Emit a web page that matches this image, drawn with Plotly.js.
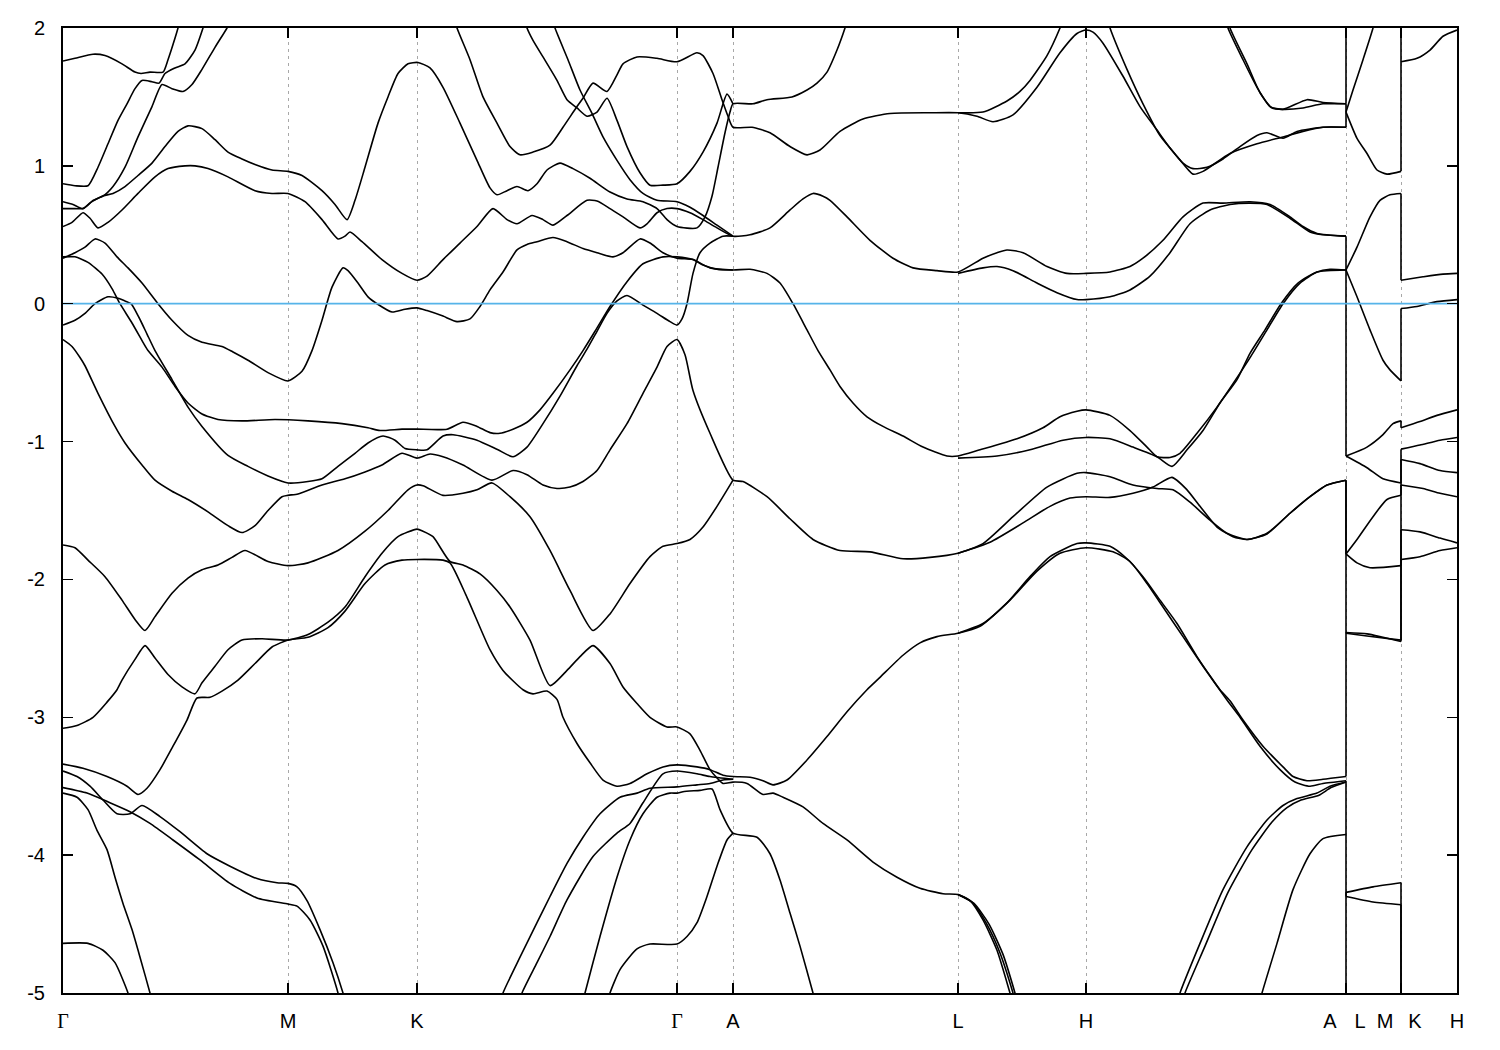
<!DOCTYPE html>
<html><head><meta charset="utf-8">
<script src="https://cdn.plot.ly/plotly-3.0.1.min.js"></script>
<style>html,body{margin:0;padding:0;background:#fff}#chart{width:1500px;height:1050px}</style>
</head><body><div id="chart"></div>
<script>
// ---- axis / path definitions (k = path coordinate along Γ-M-K-Γ-A-L-H-A|L-M|K-H) ----
const symK = [0, 225, 354, 614, 670, 895, 1023, 1283, 1338, 1394];
const labelK = [0, 225, 354, 614, 670, 895, 1023, 1267, 1297, 1322, 1352, 1394];
const labelText = ['Γ','M','K','Γ','A','L','H','A','L','M','K','H'];
const yTickVals = [2, 1, 0, -1, -2, -3, -4, -5];
const yTickText = ['2','1','0','-1','-2','-3','-4','-5'];
const eRange = [-5, 2];
const eFermi = 0;

// ---- bands: [k, E(eV)] ----
const bandG1 = [[0,1.76],[12,1.78],[30,1.81],[42,1.80],[59,1.74],[72,1.68],[78,1.67],[87,1.68],[100,1.68],[105,1.77],[110,1.88],[115,2.0],[119,2.12]];
const bandG2 = [[0,0.87],[12,0.856],[25,0.856],[35,0.99],[45,1.16],[55,1.33],[64,1.45],[72,1.56],[79,1.62],[89,1.61],[96,1.60],[102,1.67],[112,1.71],[122,1.74],[132,1.84],[140,2.0],[144,2.1]];
const bandG3 = [[0,0.74],[10,0.72],[20,0.69],[30,0.75],[40,0.78],[50,0.85],[62,0.99],[75,1.21],[89,1.43],[99,1.59],[109,1.56],[120,1.54],[129,1.59],[139,1.70],[152,1.86],[164,2.0],[168,2.06]];
const bandG4 = [[0,0.69],[12,0.69],[20,0.69],[29,0.74],[39,0.78],[50,0.80],[62,0.85],[75,0.93],[89,1.02],[102,1.14],[115,1.25],[125,1.29],[139,1.27],[152,1.19],[165,1.10],[179,1.05],[192,1.01],[209,0.97],[225,0.96],[239,0.93],[259,0.82],[272,0.72],[284,0.61],[292,0.75],[302,0.99],[315,1.31],[325,1.50],[335,1.67],[345,1.74],[355,1.75],[367,1.71],[380,1.57],[397,1.31],[414,1.04],[427,0.84],[434,0.79],[444,0.82],[454,0.85],[465,0.82],[474,0.87],[484,0.97],[497,1.02],[510,0.98],[527,0.91],[547,0.81],[564,0.76],[580,0.74],[594,0.69],[604,0.61],[614,0.56],[634,0.55],[642,0.63],[649,0.78],[655,0.99],[662,1.24],[667,1.39],[670,1.45],[690,1.45],[704,1.48],[729,1.50],[744,1.55],[754,1.60],[764,1.68],[774,1.84],[782,2.0],[787,2.12]];
const bandG5 = [[0,0.56],[9,0.59],[20,0.66],[27,0.62],[35,0.55],[45,0.59],[59,0.68],[75,0.80],[92,0.92],[105,0.98],[122,1.00],[132,1.00],[145,0.98],[165,0.92],[192,0.82],[209,0.80],[225,0.80],[242,0.74],[259,0.61],[275,0.47],[282,0.49],[287,0.52],[299,0.45],[319,0.32],[339,0.22],[354,0.17],[364,0.20],[380,0.32],[397,0.44],[414,0.56],[430,0.69],[444,0.61],[454,0.58],[469,0.64],[480,0.61],[490,0.57],[504,0.64],[524,0.75],[534,0.745],[547,0.69],[560,0.63],[577,0.55],[584,0.58],[594,0.66],[604,0.69],[614,0.69],[627,0.66],[640,0.61],[654,0.55],[670,0.49],[687,0.50],[707,0.55],[727,0.68],[740,0.76],[750,0.80],[760,0.78],[767,0.75],[784,0.63],[807,0.46],[830,0.33],[850,0.26],[874,0.24],[895,0.23],[920,0.33],[934,0.37],[944,0.39],[960,0.37],[984,0.27],[1004,0.22],[1023,0.22],[1047,0.23],[1067,0.27],[1080,0.33],[1100,0.46],[1120,0.63],[1140,0.73],[1160,0.73],[1187,0.74],[1207,0.72],[1227,0.63],[1240,0.56],[1254,0.51],[1283,0.49]];
const bandL023b = [[895,0.22],[920,0.26],[934,0.27],[950,0.24],[974,0.15],[994,0.08],[1014,0.03],[1023,0.03],[1047,0.05],[1067,0.10],[1087,0.20],[1107,0.37],[1127,0.58],[1147,0.68],[1167,0.72],[1187,0.73],[1204,0.72],[1227,0.62],[1247,0.52],[1260,0.50],[1283,0.49]];
const bandT1 = [[460,2.1],[464,2.0],[470,1.91],[480,1.79],[494,1.62],[504,1.48],[514,1.42],[524,1.36],[534,1.39],[544,1.49],[554,1.33],[564,1.14],[577,0.95],[587,0.86],[600,0.86],[614,0.87],[627,0.96],[640,1.10],[654,1.31],[664,1.52],[670,1.45]];
const bandT2 = [[488,2.1],[492,2.0],[505,1.77],[517,1.55],[529,1.38],[540,1.21],[554,1.04],[567,0.90],[580,0.80],[594,0.75],[614,0.74],[627,0.70],[640,0.64],[654,0.57],[670,0.49]];
const bandDelta = [[390,2.1],[394,2.0],[407,1.77],[420,1.50],[434,1.31],[447,1.14],[457,1.08],[470,1.10],[487,1.15],[500,1.28],[514,1.43],[520,1.49],[530,1.60],[544,1.54],[554,1.66],[560,1.74],[574,1.79],[594,1.78],[614,1.755],[634,1.82],[640,1.80],[650,1.67],[659,1.48],[665,1.36],[670,1.28],[689,1.28],[707,1.24],[727,1.14],[744,1.08],[757,1.115],[777,1.25],[800,1.34],[827,1.38],[867,1.385],[895,1.385],[914,1.36],[930,1.32],[950,1.37],[974,1.57],[997,1.82],[1014,1.96],[1023,1.985],[1030,1.97],[1040,1.89],[1060,1.65],[1077,1.43],[1094,1.26],[1107,1.13],[1120,1.02],[1130,0.98],[1144,0.99],[1160,1.05],[1177,1.14],[1194,1.22],[1204,1.24],[1220,1.20],[1234,1.25],[1260,1.28],[1283,1.28]];
const bandLtop = [[895,1.385],[920,1.39],[944,1.47],[957,1.54],[967,1.62],[984,1.80],[997,2.0],[1002,2.1]];
const bandTopA1 = [[1043,2.1],[1047,2.0],[1064,1.70],[1080,1.45],[1097,1.22],[1114,1.07],[1130,0.94],[1140,0.96],[1167,1.09],[1194,1.16],[1220,1.21],[1240,1.25],[1260,1.28],[1283,1.28]];
const bandTopA2 = [[1162,2.1],[1165,2.0],[1180,1.77],[1194,1.57],[1207,1.43],[1220,1.41],[1244,1.48],[1260,1.46],[1283,1.45],[1283,2.3]];
const bandTopA3 = [[1164,2.1],[1167,2.0],[1184,1.74],[1197,1.53],[1209,1.42],[1220,1.41],[1240,1.42],[1260,1.45],[1283,1.45]];
const bandD1 = [[0,0.33],[12,0.37],[22,0.41],[32,0.47],[42,0.44],[54,0.34],[65,0.26],[79,0.15],[95,0.00],[109,-0.12],[125,-0.23],[139,-0.28],[159,-0.31],[170,-0.35],[185,-0.41],[205,-0.50],[225,-0.56],[239,-0.49],[249,-0.34],[259,-0.12],[269,0.12],[280,0.26],[285,0.24],[295,0.15],[305,0.05],[314,0.00],[329,-0.06],[342,-0.04],[354,-0.03],[364,-0.05],[380,-0.09],[394,-0.13],[407,-0.11],[417,-0.02],[427,0.10],[440,0.23],[454,0.39],[464,0.43],[474,0.45],[490,0.48],[504,0.45],[520,0.40],[534,0.37],[550,0.34],[560,0.37],[577,0.47],[587,0.44],[600,0.37],[614,0.33],[630,0.32],[647,0.26],[670,0.245],[687,0.25],[704,0.22],[717,0.15],[730,0.00],[744,-0.19],[755,-0.34],[767,-0.48],[777,-0.60],[790,-0.72],[804,-0.82],[820,-0.89],[840,-0.96],[860,-1.04],[884,-1.105],[895,-1.105],[917,-1.06],[954,-0.98],[980,-0.90],[997,-0.82],[1014,-0.78],[1023,-0.77],[1047,-0.81],[1067,-0.92],[1084,-1.04],[1094,-1.11],[1107,-1.115],[1117,-1.085],[1134,-0.94],[1154,-0.75],[1170,-0.58],[1188,-0.38],[1204,-0.19],[1220,0.00],[1237,0.15],[1254,0.23],[1267,0.25],[1283,0.245]];
const bandD1b = [[895,-1.12],[934,-1.105],[967,-1.06],[1000,-0.99],[1023,-0.97],[1047,-0.98],[1070,-1.04],[1094,-1.11],[1109,-1.18],[1124,-1.06],[1140,-0.92],[1157,-0.72],[1174,-0.55],[1187,-0.36],[1202,-0.19],[1218,0.00],[1235,0.15],[1254,0.23],[1283,0.245]];
const bandD2 = [[0,0.34],[12,0.34],[25,0.30],[39,0.215],[49,0.11],[57,0.00],[69,-0.14],[80,-0.28],[85,-0.34],[99,-0.46],[112,-0.60],[125,-0.72],[139,-0.80],[155,-0.84],[179,-0.85],[212,-0.84],[245,-0.85],[279,-0.87],[305,-0.90],[317,-0.92],[339,-0.91],[354,-0.91],[384,-0.91],[400,-0.86],[414,-0.89],[427,-0.935],[437,-0.94],[450,-0.91],[464,-0.86],[477,-0.77],[490,-0.65],[507,-0.48],[520,-0.34],[532,-0.20],[547,-0.02],[564,0.16],[580,0.29],[600,0.34],[614,0.34],[630,0.32],[640,0.28],[654,0.25],[670,0.245]];
const bandD3 = [[0,-0.155],[12,-0.12],[22,-0.07],[32,0.00],[45,0.05],[55,0.04],[62,0.02],[68,0.00],[76,-0.10],[84,-0.22],[92,-0.34],[109,-0.55],[125,-0.75],[139,-0.89],[165,-1.10],[185,-1.18],[205,-1.25],[225,-1.30],[245,-1.29],[259,-1.27],[275,-1.18],[292,-1.085],[305,-1.01],[320,-0.96],[332,-0.99],[342,-1.05],[354,-1.06],[364,-1.06],[380,-0.96],[390,-0.95],[414,-0.99],[435,-1.06],[450,-1.11],[464,-1.04],[480,-0.87],[497,-0.67],[514,-0.45],[524,-0.33],[534,-0.20],[544,-0.07],[554,0.02],[564,0.06],[580,-0.01],[594,-0.07],[607,-0.13],[614,-0.155],[619,-0.11],[624,0.00],[630,0.22],[637,0.37],[647,0.44],[660,0.49],[670,0.49]];
const bandS = [[0,-0.26],[9,-0.31],[17,-0.39],[22,-0.45],[35,-0.65],[52,-0.89],[62,-1.01],[79,-1.17],[92,-1.28],[109,-1.36],[125,-1.42],[145,-1.51],[165,-1.61],[179,-1.66],[192,-1.61],[205,-1.50],[219,-1.40],[225,-1.39],[235,-1.38],[259,-1.315],[282,-1.27],[302,-1.22],[319,-1.17],[339,-1.085],[354,-1.12],[367,-1.09],[380,-1.11],[400,-1.17],[429,-1.28],[450,-1.21],[464,-1.24],[480,-1.315],[494,-1.34],[507,-1.33],[520,-1.29],[534,-1.21],[547,-1.06],[564,-0.87],[580,-0.65],[594,-0.46],[604,-0.31],[614,-0.26],[622,-0.37],[630,-0.63],[647,-0.94],[670,-1.28],[680,-1.29],[704,-1.40],[727,-1.56],[750,-1.71],[777,-1.79],[807,-1.80],[840,-1.85],[867,-1.84],[895,-1.81],[920,-1.74],[950,-1.545],[984,-1.33],[1014,-1.23],[1023,-1.225],[1047,-1.255],[1070,-1.315],[1094,-1.34],[1110,-1.35],[1127,-1.44],[1147,-1.57],[1164,-1.665],[1184,-1.71],[1204,-1.665],[1227,-1.52],[1247,-1.40],[1264,-1.315],[1283,-1.28]];
const bandSb = [[895,-1.81],[927,-1.73],[960,-1.59],[987,-1.47],[1007,-1.41],[1023,-1.40],[1047,-1.405],[1070,-1.375],[1090,-1.33],[1109,-1.26],[1124,-1.35],[1137,-1.47],[1154,-1.62],[1170,-1.69],[1184,-1.71],[1204,-1.67],[1227,-1.52],[1247,-1.40],[1264,-1.315],[1283,-1.28]];
const bandV = [[0,-1.75],[12,-1.77],[25,-1.86],[42,-1.98],[59,-2.15],[72,-2.29],[82,-2.37],[92,-2.27],[109,-2.10],[125,-1.99],[139,-1.93],[155,-1.895],[169,-1.84],[182,-1.79],[205,-1.87],[225,-1.90],[245,-1.88],[275,-1.79],[302,-1.65],[325,-1.50],[345,-1.35],[354,-1.315],[360,-1.32],[380,-1.39],[400,-1.375],[414,-1.35],[429,-1.30],[447,-1.40],[467,-1.545],[487,-1.79],[507,-2.08],[530,-2.37],[547,-2.25],[567,-2.03],[587,-1.835],[600,-1.76],[614,-1.74],[627,-1.71],[640,-1.62],[654,-1.47],[670,-1.28]];
const band308 = [[0,-3.08],[14,-3.06],[30,-3.00],[44,-2.89],[54,-2.80],[59,-2.73],[72,-2.58],[82,-2.48],[92,-2.57],[105,-2.69],[119,-2.78],[132,-2.83],[139,-2.75],[152,-2.63],[165,-2.51],[179,-2.44],[199,-2.43],[225,-2.44],[245,-2.40],[265,-2.31],[282,-2.20],[302,-1.98],[319,-1.81],[335,-1.69],[354,-1.635],[360,-1.65],[370,-1.69],[387,-1.87],[400,-1.895],[417,-1.96],[434,-2.08],[447,-2.20],[467,-2.44],[487,-2.77],[504,-2.66],[517,-2.56],[530,-2.48],[547,-2.61],[560,-2.78],[574,-2.90],[587,-3.00],[604,-3.07],[614,-3.07],[627,-3.12],[637,-3.24],[647,-3.38],[654,-3.44],[660,-3.48],[670,-3.47],[684,-3.48],[700,-3.56],[710,-3.55],[720,-3.58],[740,-3.65],[760,-3.77],[784,-3.89],[810,-4.05],[834,-4.16],[857,-4.24],[880,-4.28],[895,-4.285],[907,-4.33],[920,-4.47],[934,-4.69],[947,-5.0],[951,-5.1]];
const band334 = [[0,-3.34],[20,-3.37],[44,-3.43],[64,-3.50],[75,-3.56],[84,-3.515],[97,-3.38],[110,-3.21],[124,-3.02],[134,-2.86],[147,-2.855],[159,-2.81],[175,-2.73],[192,-2.61],[209,-2.49],[225,-2.44],[245,-2.42],[265,-2.35],[282,-2.23],[302,-2.03],[322,-1.895],[339,-1.86],[354,-1.855],[380,-1.86],[387,-1.88],[404,-2.13],[427,-2.51],[440,-2.66],[460,-2.80],[470,-2.83],[484,-2.81],[494,-2.87],[500,-3.00],[514,-3.19],[527,-3.33],[540,-3.455],[554,-3.50],[567,-3.48],[584,-3.41],[600,-3.36],[614,-3.345],[634,-3.36],[647,-3.38],[660,-3.42],[670,-3.43],[687,-3.435],[700,-3.46],[710,-3.49],[724,-3.455],[744,-3.31],[764,-3.14],[784,-2.96],[804,-2.80],[817,-2.71],[840,-2.55],[857,-2.46],[874,-2.415],[895,-2.39],[917,-2.34],[944,-2.17],[967,-1.98],[987,-1.835],[1014,-1.74],[1023,-1.735],[1047,-1.76],[1064,-1.85],[1080,-1.98],[1097,-2.15],[1114,-2.32],[1134,-2.56],[1150,-2.73],[1157,-2.80],[1167,-2.88],[1180,-3.02],[1200,-3.21],[1220,-3.36],[1230,-3.43],[1244,-3.46],[1260,-3.45],[1283,-3.43]];
const band334b = [[895,-2.39],[920,-2.32],[947,-2.15],[974,-1.94],[997,-1.81],[1023,-1.77],[1050,-1.80],[1067,-1.87],[1084,-2.03],[1100,-2.20],[1120,-2.415],[1140,-2.63],[1164,-2.875],[1177,-3.0],[1197,-3.21],[1217,-3.38],[1232,-3.47],[1247,-3.50],[1260,-3.48],[1283,-3.46]];
const band339 = [[0,-3.39],[14,-3.43],[27,-3.50],[40,-3.60],[54,-3.70],[67,-3.70],[79,-3.64],[97,-3.72],[117,-3.83],[144,-3.99],[167,-4.08],[194,-4.17],[214,-4.20],[225,-4.205],[234,-4.23],[244,-4.33],[257,-4.54],[270,-4.78],[280,-5.0],[283,-5.08]];
const band351 = [[0,-3.51],[24,-3.55],[47,-3.62],[67,-3.685],[87,-3.77],[110,-3.89],[137,-4.035],[167,-4.205],[194,-4.31],[225,-4.355],[234,-4.37],[247,-4.47],[260,-4.66],[275,-5.0],[277,-5.08]];
const band355 = [[0,-3.55],[14,-3.58],[25,-3.67],[34,-3.82],[44,-3.96],[52,-4.16],[60,-4.35],[69,-4.54],[77,-4.74],[87,-5.0],[89,-5.06]];
const band464 = [[0,-4.64],[25,-4.64],[40,-4.69],[52,-4.78],[65,-5.0],[67,-5.06]];
const bandR1 = [[438,-5.06],[440,-5.0],[457,-4.74],[474,-4.49],[487,-4.30],[504,-4.06],[520,-3.87],[537,-3.70],[557,-3.58],[574,-3.55],[587,-3.515],[614,-3.505],[634,-3.49],[647,-3.48],[660,-3.455],[670,-3.45]];
const bandR2 = [[457,-5.06],[459,-5.0],[474,-4.78],[487,-4.59],[504,-4.325],[530,-4.01],[554,-3.84],[567,-3.77],[580,-3.62],[600,-3.41],[614,-3.39],[634,-3.41],[647,-3.43],[670,-3.45]];
const bandR3 = [[520,-5.06],[522,-5.0],[537,-4.59],[554,-4.16],[567,-3.89],[580,-3.70],[594,-3.58],[607,-3.55],[614,-3.55],[620,-3.54],[637,-3.53],[649,-3.52],[657,-3.67],[670,-3.84],[694,-3.87],[707,-3.99],[717,-4.18],[727,-4.42],[737,-4.66],[750,-5.0],[752,-5.06]];
const bandR4 = [[545,-5.06],[547,-5.0],[557,-4.83],[574,-4.68],[587,-4.645],[614,-4.645],[624,-4.59],[634,-4.49],[644,-4.30],[654,-4.08],[664,-3.89],[670,-3.84]];
const bandLH2 = [[895,-4.285],[909,-4.34],[923,-4.49],[937,-4.71],[950,-5.0],[953,-5.08]];
const bandLH3 = [[895,-4.285],[911,-4.35],[926,-4.50],[940,-4.72],[952,-5.0],[955,-5.08]];
const bandHA1 = [[1115,-5.06],[1117,-5.0],[1137,-4.64],[1160,-4.25],[1184,-3.94],[1204,-3.745],[1220,-3.64],[1234,-3.59],[1254,-3.55],[1267,-3.50],[1283,-3.47]];
const bandHA2 = [[1120,-5.06],[1122,-5.0],[1142,-4.66],[1165,-4.27],[1189,-3.96],[1209,-3.76],[1224,-3.655],[1238,-3.60],[1256,-3.565],[1268,-3.51],[1283,-3.47]];
const bandHA3 = [[1197,-5.06],[1199,-5.0],[1214,-4.64],[1230,-4.25],[1247,-3.99],[1260,-3.88],[1283,-3.85]];
// A|L ... M|K ... H  (two pairs with the same k = the band's values on both sides of a path break)
const bandLM1 = [[1283,1.45],[1283,1.39],[1290,1.55],[1300,1.77],[1310,2.0],[1313,2.1]];
const bandLM2 = [[1283,1.28],[1283,1.39],[1294,1.20],[1304,1.09],[1314,0.97],[1324,0.94],[1338,0.96],[1338,2.3]];
const bandKH1 = [[1338,1.755],[1354,1.78],[1367,1.84],[1380,1.94],[1394,1.985]];
const bandLM3 = [[1283,0.49],[1283,0.245],[1294,0.41],[1307,0.63],[1317,0.75],[1327,0.79],[1338,0.80],[1338,0.17],[1360,0.195],[1380,0.215],[1394,0.22]];
const bandLM4 = [[1283,0.245],[1294,0.05],[1307,-0.19],[1320,-0.41],[1327,-0.48],[1338,-0.56],[1338,-0.035],[1354,-0.02],[1374,0.015],[1394,0.03]];
const bandLM5 = [[1283,0.245],[1283,-1.105],[1304,-1.04],[1320,-0.95],[1330,-0.87],[1338,-0.85],[1338,-0.90],[1357,-0.855],[1374,-0.81],[1394,-0.77]];
const bandLM6 = [[1283,-1.105],[1304,-1.19],[1320,-1.27],[1338,-1.30],[1338,-1.055],[1357,-1.025],[1377,-0.99],[1394,-0.97]];
const bandLM7 = [[1283,-1.28],[1283,-1.815],[1294,-1.71],[1310,-1.545],[1324,-1.42],[1338,-1.39],[1338,-1.13],[1357,-1.16],[1377,-1.21],[1394,-1.225]];
const bandLM8 = [[1283,-1.815],[1294,-1.88],[1307,-1.915],[1338,-1.90],[1338,-1.315],[1360,-1.34],[1377,-1.375],[1394,-1.40]];
const bandLM9 = [[1283,-3.43],[1283,-2.385],[1304,-2.395],[1320,-2.42],[1338,-2.45],[1338,-1.64],[1357,-1.655],[1377,-1.70],[1394,-1.735]];
const bandLM10 = [[1283,-1.28],[1283,-2.39],[1304,-2.41],[1338,-2.44],[1338,-1.855],[1357,-1.835],[1377,-1.79],[1394,-1.77]];
const bandLM11 = [[1283,-5.3],[1283,-4.27],[1310,-4.23],[1338,-4.20],[1338,-5.3]];
const bandLM12 = [[1283,-3.46],[1283,-4.30],[1310,-4.34],[1338,-4.36],[1338,-5.3]];

const bands = [bandG1,bandG2,bandG3,bandG4,bandG5,bandL023b,bandT1,bandT2,bandDelta,bandLtop,bandTopA1,bandTopA2,bandTopA3,
  bandD1,bandD1b,bandD2,bandD3,bandS,bandSb,bandV,band308,band334,band334b,band339,band351,band355,band464,
  bandR1,bandR2,bandR3,bandR4,bandLH2,bandLH3,bandHA1,bandHA2,bandHA3,
  bandLM1,bandLM2,bandKH1,bandLM3,bandLM4,bandLM5,bandLM6,bandLM7,bandLM8,bandLM9,bandLM10,bandLM11,bandLM12];

// split each band at path breaks: smooth pieces + straight vertical jumps
function pieces(band) {
  const out = [];
  let cur = [band[0]];
  for (let i = 1; i < band.length; i++) {
    const p = band[i], q = band[i-1];
    if (p[0] === q[0]) {
      if (cur.length > 1) out.push({pts:cur, smooth:true});
      out.push({pts:[q, p], smooth:false});
      cur = [p];
    } else cur.push(p);
  }
  if (cur.length > 1) out.push({pts:cur, smooth:true});
  return out;
}

const traces = [];
bands.forEach(b => pieces(b).forEach(pc => {
  traces.push({
    type:'scatter', mode:'lines', x:pc.pts.map(p=>p[0]), y:pc.pts.map(p=>p[1]),
    line: pc.smooth && pc.pts.length > 2 ? {color:'#000', width:1.6, shape:'spline', smoothing:0.6}
                                         : {color:'#000', width:1.6, shape:'linear'},
    hoverinfo:'skip', showlegend:false
  });
}));
const kFirst = symK[0], kLast = symK[symK.length-1];
traces.push({type:'scatter', mode:'lines', x:[kFirst,kLast], y:[eFermi,eFermi], xaxis:'x2', yaxis:'y',
  line:{color:'#56b4e9', width:1.8}, hoverinfo:'skip', showlegend:false});

const labelHtml = labelText.map(t => t === 'Γ' ? '<span style="font-family:\'Liberation Serif\',serif">Γ</span>' : t);

const layout = {
  width:1500, height:1050,
  margin:{l:63, r:43, t:28, b:57, pad:0},
  paper_bgcolor:'#fff', plot_bgcolor:'#fff', showlegend:false,
  font:{family:'"Liberation Sans", Arial, sans-serif', size:20, color:'#000'},
  xaxis:{range:[kFirst,kLast], tickmode:'array', tickvals:symK, ticktext:symK.map(()=>''),
    ticks:'inside', ticklen:10, tickwidth:1.5, tickcolor:'#000', mirror:'ticks',
    showline:true, linecolor:'#000', linewidth:2,
    showgrid:true, gridcolor:'#a8a8a8', gridwidth:1, griddash:'3px,4px', zeroline:false, fixedrange:true},
  xaxis2:{overlaying:'x', anchor:'y', side:'bottom', range:[kFirst,kLast], tickmode:'array',
    tickvals:labelK, ticktext:labelHtml, ticks:'', showgrid:false, showline:false, zeroline:false,
    ticklabelstandoff:14, fixedrange:true},
  yaxis:{range:eRange, tickmode:'array', tickvals:yTickVals, ticktext:yTickText,
    ticks:'inside', ticklen:10, tickwidth:1.5, tickcolor:'#000', mirror:'ticks',
    showline:true, linecolor:'#000', linewidth:2, showgrid:false, zeroline:false,
    ticklabelstandoff:12, fixedrange:true}
};
Plotly.newPlot('chart', traces, layout, {staticPlot:true, displayModeBar:false});
</script></body></html>
